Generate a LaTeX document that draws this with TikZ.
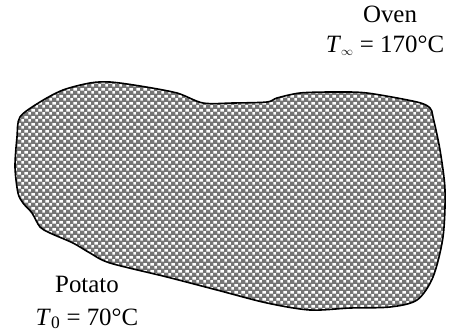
\documentclass[tikz,border=0pt]{standalone}
\usepackage{fontspec}
\setmainfont{Liberation Serif}
\usetikzlibrary{patterns.meta}
\tikzdeclarepattern{
  name=wsq,
  type=colored,
  bottom left={(0bp,0bp)},
  top right={(7bp,7bp)},
  tile size={(7bp,7bp)},
  code={
    \fill[white] (0.3bp,0.3bp) rectangle (3.2bp,3.2bp);
    \fill[white] (3.8bp,3.8bp) rectangle (6.7bp,6.7bp);
  }
}
\tikzset{
  lbl/.style={font=\fontsize{25}{29}\selectfont, inner sep=0pt, anchor=base, align=center},
  potato/.style={line width=1.6bp, line join=round}
}
\begin{document}
\begin{tikzpicture}[x=1bp,y=-1bp]
\useasboundingbox (0,0) rectangle (455,331);
\def\outline{plot[smooth cycle, tension=0.5] coordinates {
 (20,117) (40,102) (63,90) (90,83) (110,82) (140,86) (177,93) (203,103)
 (233,103) (267,102) (277,98) (300,93) (333,92) (367,93) (417,102)
 (430,108) (433,117) (440,150) (445,190) (443,237) (433,277) (417,300)
 (390,307) (350,308) (310,310) (267,303) (217,290) (167,277) (110,263)
 (90,253) (73,243) (50,233) (40,227) (32,213) (23,203) (18,193) (15,167) (17,137)}}
\fill[gray!92!black] \outline;
\fill[pattern=wsq] \outline;
\draw[potato] \outline;
\node[lbl] (oven) at (390,22) {Oven};
\node[lbl] (ovenT) at (385,52) {\textit{T}\textsubscript{$\scriptstyle\infty$} = 170°C};
\node[lbl] (pot) at (87,292) {Potato};
\node[lbl] (potT) at (87,325) {\textit{T}\textsubscript{0} = 70°C};
\end{tikzpicture}
\end{document}
